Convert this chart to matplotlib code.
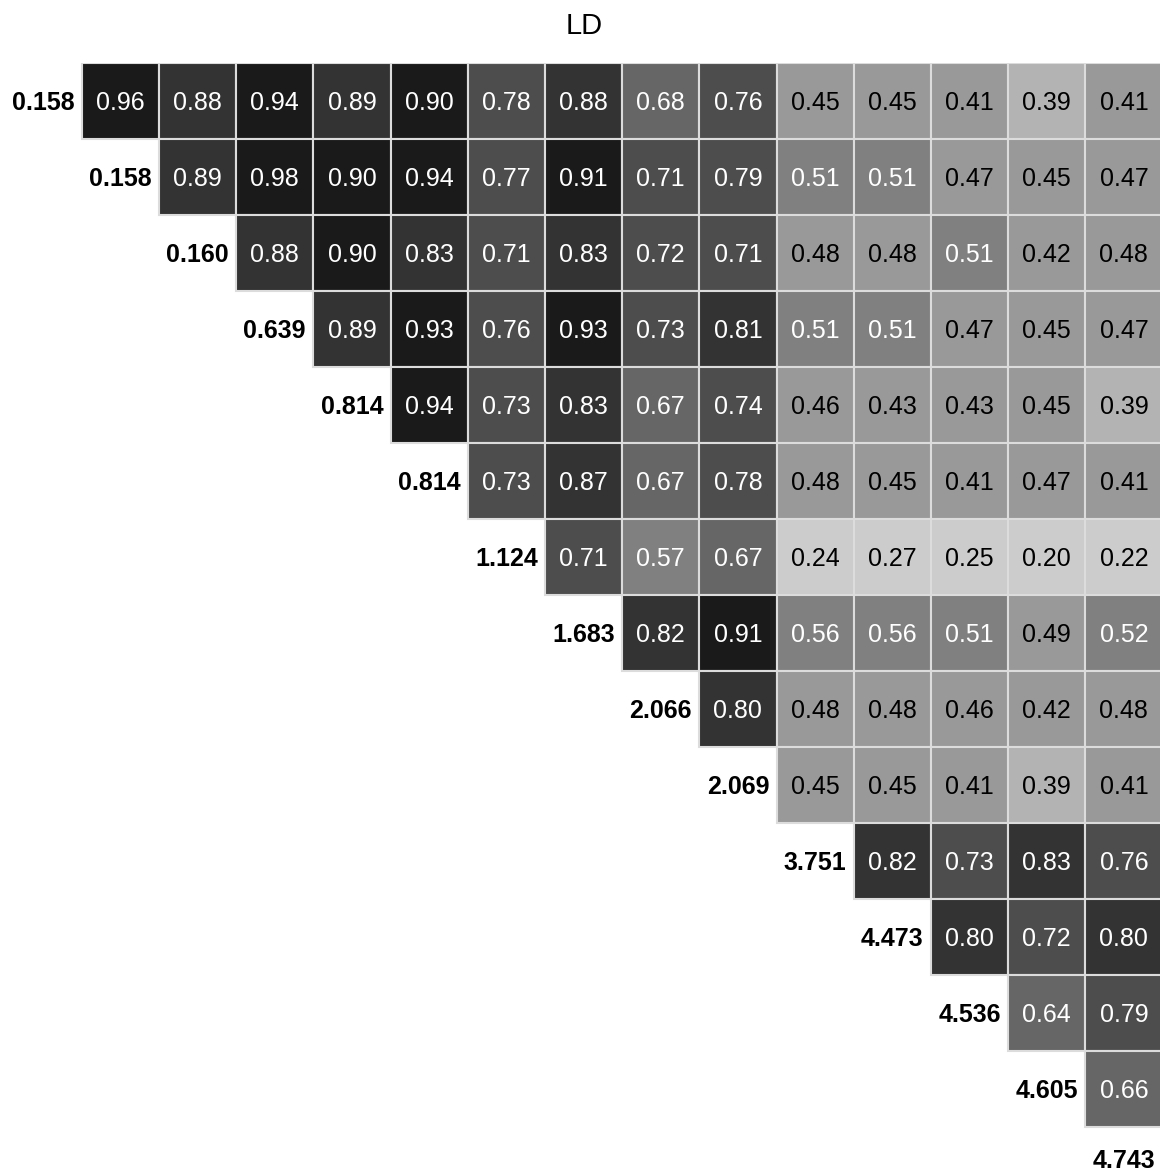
import numpy as np
import matplotlib
matplotlib.use("Agg")
import matplotlib.pyplot as plt
from matplotlib.colors import ListedColormap, BoundaryNorm
from matplotlib.patches import Rectangle

plt.rcParams['font.family'] = ['Liberation Sans', 'DejaVu Sans']

# marker positions along the diagonal
positions = ["0.158", "0.158", "0.160", "0.639", "0.814", "0.814", "1.124",
             "1.683", "2.066", "2.069", "3.751", "4.473", "4.536", "4.605", "4.743"]

# pairwise LD, upper triangle, one row per marker
ld_rows = [
    [0.96, 0.88, 0.94, 0.89, 0.90, 0.78, 0.88, 0.68, 0.76, 0.45, 0.45, 0.41, 0.39, 0.41],
    [0.89, 0.98, 0.90, 0.94, 0.77, 0.91, 0.71, 0.79, 0.51, 0.51, 0.47, 0.45, 0.47],
    [0.88, 0.90, 0.83, 0.71, 0.83, 0.72, 0.71, 0.48, 0.48, 0.51, 0.42, 0.48],
    [0.89, 0.93, 0.76, 0.93, 0.73, 0.81, 0.51, 0.51, 0.47, 0.45, 0.47],
    [0.94, 0.73, 0.83, 0.67, 0.74, 0.46, 0.43, 0.43, 0.45, 0.39],
    [0.73, 0.87, 0.67, 0.78, 0.48, 0.45, 0.41, 0.47, 0.41],
    [0.71, 0.57, 0.67, 0.24, 0.27, 0.25, 0.20, 0.22],
    [0.82, 0.91, 0.56, 0.56, 0.51, 0.49, 0.52],
    [0.80, 0.48, 0.48, 0.46, 0.42, 0.48],
    [0.45, 0.45, 0.41, 0.39, 0.41],
    [0.82, 0.73, 0.83, 0.76],
    [0.80, 0.72, 0.80],
    [0.64, 0.79],
    [0.66],
]

n = len(positions)

# ten grey steps, darker for stronger LD
bounds = np.linspace(0, 1, 11)
greys = [str(round(1 - k / 10, 2)) for k in range(10)]
greys[0] = "0.95"
cmap = ListedColormap(greys)
norm = BoundaryNorm(bounds, cmap.N)

fig = plt.figure(figsize=(11.6, 11.73), dpi=100)
ax = fig.add_axes([4.5 / 1160, 1 - 62.7 / 1173 - 1140 / 1173, 1158 / 1160, 1140 / 1173])
ax.set_xlim(0, n)
ax.set_ylim(n, 0)
ax.axis("off")

for i, row in enumerate(ld_rows):
    for k, v in enumerate(row):
        j = i + 1 + k
        ax.add_patch(Rectangle((j, i), 1, 1, facecolor=cmap(norm(v)),
                               edgecolor="#dcdcdc", linewidth=1.5))
        ax.text(j + 0.5, i + 0.5, f"{v:.2f}", ha="center", va="center_baseline",
                fontsize=18, color="white" if v >= 0.5 else "black")

for i, pos in enumerate(positions):
    # last label sits at the bottom edge, lift it a touch so it stays on the canvas
    y = i + 0.5 if i < n - 1 else i + 0.42
    ax.text(i + 0.5, y, pos, ha="center", va="center_baseline", fontsize=18,
            fontweight="bold", color="black")

fig.text(584 / 1160, 1 - 26 / 1173, "LD", ha="center", va="center", fontsize=21)

fig.savefig("out.png", dpi=100)
